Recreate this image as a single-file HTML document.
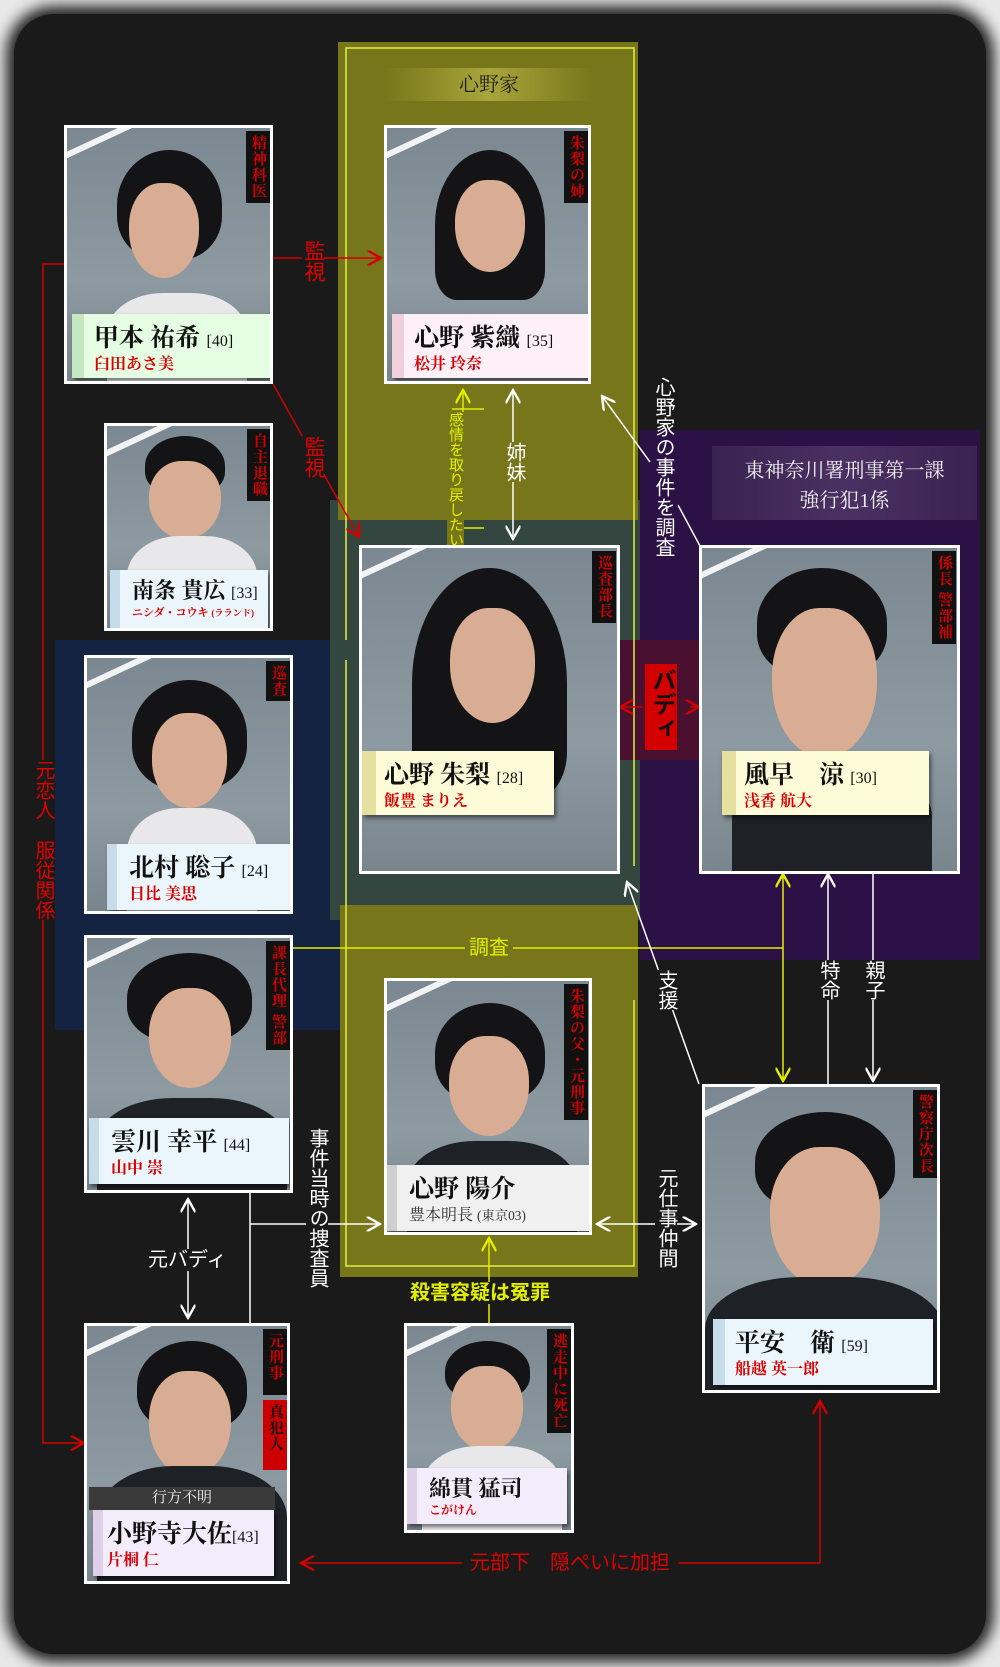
<!DOCTYPE html>
<html><head><meta charset="utf-8"><style>
*{margin:0;padding:0;box-sizing:border-box}
body{width:1000px;height:1667px;background:#e8e8e8;position:relative;overflow:hidden;font-family:"Liberation Serif","Noto Serif CJK SC","Noto Sans CJK JP",serif}
.frame{position:absolute;left:14px;top:14px;width:972px;height:1640px;background:#1a1a1a;border-radius:40px;box-shadow:0 0 14px 8px #222}
.blob{position:absolute}
.card{position:absolute;background:linear-gradient(180deg,#7b8891 0%,#8d9aa2 60%,#7a868d 100%);overflow:hidden;border:3px solid #fff}
.card .hair{position:absolute;background:#141416;border-radius:50% 50% 40% 40%}
.card .face{position:absolute;background:#d9ad94;border-radius:45% 45% 50% 50%}
.card .body{position:absolute;background:#1e2126;border-radius:40% 40% 0 0}
.card .shirt{position:absolute;background:#e8e8ea}
.stroke{position:absolute;left:-10px;top:10px;width:80px;height:6px;background:#fff;transform:rotate(-25deg);opacity:.9}
.tag{position:absolute;background:#111;color:#d40000;font-size:15px;writing-mode:vertical-rl;padding:4px 2px;line-height:20px;font-weight:bold;letter-spacing:1px}
.nb{position:absolute;box-shadow:2px 3px 4px rgba(0,0,0,.5)}
.nb .n{position:absolute;left:22px;top:4px;font-size:25px;font-weight:bold;color:#111;white-space:nowrap}
.nb .n small{font-size:16px;font-weight:normal}
.nb .a{position:absolute;left:22px;top:37px;font-size:16px;color:#d00;font-weight:bold;white-space:nowrap}
.lbl{position:absolute;font-family:"Liberation Sans","Noto Sans CJK JP",sans-serif;font-size:20px;line-height:22px;white-space:nowrap}
.v{writing-mode:vertical-rl}
</style></head><body>
<div class="frame"></div>
<div class="blob" style="left:55px;top:640px;width:300px;height:390px;background:#152446;opacity:.95"></div>
<div class="blob" style="left:330px;top:500px;width:320px;height:420px;background:#33463f"></div>
<div class="blob" style="left:640px;top:430px;width:340px;height:530px;background:#2b1146"></div>
<div class="blob" style="left:620px;top:640px;width:80px;height:120px;background:#4a1030"></div>
<div class="blob" style="left:338px;top:42px;width:300px;height:478px;background:#77761a"></div>
<div class="blob" style="left:340px;top:905px;width:298px;height:372px;background:#77761a"></div>
<div class="blob" style="left:383px;top:68px;width:212px;height:33px;background:linear-gradient(90deg,#77761a,#a8a53a 50%,#77761a)"></div>
<div class="lbl" style="left:383px;top:74px;width:212px;text-align:center;color:#222;font-family:'Liberation Serif','Noto Serif CJK SC',serif">心野家</div>
<div class="blob" style="left:712px;top:446px;width:265px;height:74px;background:linear-gradient(90deg,#3a2350,#4b3163 50%,#3a2350)"></div>
<div class="lbl" style="left:712px;top:456px;width:265px;text-align:center;color:#eee;font-family:'Liberation Serif','Noto Serif CJK SC',serif;line-height:30px">東神奈川署刑事第一課<br>強行犯1係</div>

<svg width="1000" height="1667" style="position:absolute;left:0;top:0">
<defs>
<marker id="ar" markerWidth="10" markerHeight="10" refX="9" refY="5" orient="auto"><path d="M0,0 L9,5 L0,10" fill="none" stroke="#d40000" stroke-width="1.6"/></marker>
<marker id="aw" markerWidth="10" markerHeight="10" refX="9" refY="5" orient="auto"><path d="M0,0 L9,5 L0,10" fill="none" stroke="#fff" stroke-width="1.6"/></marker>
<marker id="ay" markerWidth="10" markerHeight="10" refX="9" refY="5" orient="auto"><path d="M0,0 L9,5 L0,10" fill="none" stroke="#e2ee00" stroke-width="1.6"/></marker>
</defs>
<g fill="none" stroke-width="1.5">
<path d="M346,640 V48 H634 V866" stroke="#e2ee40"/>
<path d="M346,660 V1266 H634 V1000" stroke="#e2ee40"/>
<path d="M273,258 H381" stroke="#d40000" marker-end="url(#ar)"/>
<path d="M273,384 L359,537" stroke="#d40000" marker-end="url(#ar)"/>
<path d="M64,264 H43 V1443 H84" stroke="#d40000" marker-end="url(#ar)"/>
<path d="M590,1563 H301" stroke="#d40000" marker-end="url(#ar)"/>
<path d="M590,1563 H820 V1401" stroke="#d40000" marker-end="url(#ar)"/>
<path d="M643,707 H620" stroke="#d40000" marker-end="url(#ar)"/>
<path d="M690,707 H699" stroke="#d40000" marker-end="url(#ar)"/>
<path d="M463,528 V390" stroke="#e2ee00" marker-end="url(#ay)"/>
<path d="M452,409 H484 M452,528 H484" stroke="#e2ee00"/>
<path d="M293,948 H783" stroke="#e2ee00"/>
<path d="M783,948 V1081" stroke="#e2ee00" marker-end="url(#ay)"/>
<path d="M783,948 V874" stroke="#e2ee00" marker-end="url(#ay)"/>
<path d="M489,1323 V1238" stroke="#e2ee00" marker-end="url(#ay)"/>
<path d="M513,465 V390" stroke="#fff" marker-end="url(#aw)"/>
<path d="M513,465 V539" stroke="#fff" marker-end="url(#aw)"/>
<path d="M650,462 L602,396" stroke="#fff" marker-end="url(#aw)"/>
<path d="M678,505 L700,546" stroke="#fff"/>
<path d="M828,1084 V874" stroke="#fff" marker-end="url(#aw)"/>
<path d="M873,874 V1081" stroke="#fff" marker-end="url(#aw)"/>
<path d="M699,1084 L627,882" stroke="#fff" marker-end="url(#aw)"/>
<path d="M250,1193 V1323 M250,1224 H380" stroke="#fff" marker-end="url(#aw)"/>
<path d="M188,1260 V1199" stroke="#fff" marker-end="url(#aw)"/>
<path d="M188,1260 V1318" stroke="#fff" marker-end="url(#aw)"/>
<path d="M645,1224 H597" stroke="#fff" marker-end="url(#aw)"/>
<path d="M645,1224 H696" stroke="#fff" marker-end="url(#aw)"/>
</g>
</svg>

<div class="lbl v" style="left:302px;top:240px;color:#e00000;background:#1a1a1a;font-size:21px">監視</div>
<div class="lbl v" style="left:302px;top:436px;color:#e00000;background:#1a1a1a;font-size:21px">監視</div>
<div class="lbl v" style="left:32px;top:760px;color:#e00000;background:#1a1a1a;line-height:22px">元恋人　服従関係</div>
<div class="lbl v" style="left:447px;top:412px;color:#e2ee00;font-size:15px;line-height:17px;background:#77761a">感情を取り戻したい</div>
<div class="lbl v" style="left:503px;top:442px;color:#fff;background:#77761a">姉妹</div>
<div class="lbl v" style="left:652px;top:377px;color:#fff;line-height:22px">心野家の事件を調査</div>
<div class="lbl v" style="left:645px;top:664px;width:32px;height:86px;background:#d40000;color:#111;font-weight:bold;font-size:24px;line-height:32px;padding-top:4px">バディ</div>
<div class="lbl" style="left:465px;top:937px;color:#e2ee00;background:#77761a;padding:0 4px">調査</div>
<div class="lbl v" style="left:817px;top:960px;color:#fff;background:#1a1a1a">特命</div>
<div class="lbl v" style="left:862px;top:960px;color:#fff;background:#1a1a1a">親子</div>
<div class="lbl v" style="left:655px;top:970px;color:#fff;background:#1a1a1a">支援</div>
<div class="lbl v" style="left:306px;top:1128px;color:#fff;background:#1a1a1a">事件当時の捜査員</div>
<div class="lbl" style="left:146px;top:1249px;color:#fff;background:#1a1a1a;padding:0 2px">元バディ</div>
<div class="lbl v" style="left:655px;top:1168px;color:#fff;background:#1a1a1a">元仕事仲間</div>
<div class="lbl" style="left:407px;top:1282px;color:#e2ee00;font-weight:bold;background:#1a1a1a;padding:0 3px">殺害容疑は冤罪</div>
<div class="lbl" style="left:462px;top:1552px;color:#e00000;background:#1a1a1a;padding:0 8px">元部下　隠ぺいに加担</div>

<div class="card" style="left:64px;top:125px;width:209px;height:259px">
 <div class="hair" style="left:50px;top:22px;width:105px;height:110px"></div><div class="face" style="left:62px;top:55px;width:70px;height:95px"></div>
 <div class="shirt" style="left:40px;top:165px;width:140px;height:100px;border-radius:40% 40% 0 0"></div><div class="stroke"></div>
 <div class="tag" style="left:179px;top:3px">精神科医</div>
 <div class="nb" style="left:5px;top:186px;width:200px;height:64px;background:linear-gradient(90deg,#c6e8c0 0 12px,#e5fde2 12px)"><div class="n">甲本 祐希 <small>[40]</small></div><div class="a">臼田あさ美</div></div>
</div>
<div class="card" style="left:384px;top:125px;width:207px;height:259px">
 <div class="hair" style="left:48px;top:22px;width:110px;height:150px;border-radius:50% 50% 20% 20%"></div><div class="face" style="left:68px;top:52px;width:70px;height:92px"></div><div class="stroke"></div>
 <div class="tag" style="left:177px;top:3px">朱梨の姉</div>
 <div class="nb" style="left:5px;top:186px;width:197px;height:64px;background:linear-gradient(90deg,#f0d0dc 0 12px,#fdf0f6 12px)"><div class="n">心野 紫織 <small>[35]</small></div><div class="a">松井 玲奈</div></div>
</div>
<div class="card" style="left:104px;top:423px;width:169px;height:208px">
 <div class="hair" style="left:38px;top:10px;width:80px;height:60px"></div><div class="face" style="left:42px;top:35px;width:72px;height:78px"></div>
 <div class="shirt" style="left:20px;top:110px;width:130px;height:100px;border-radius:40% 40% 0 0"></div><div class="stroke"></div>
 <div class="tag" style="left:140px;top:3px">自主退職</div>
 <div class="nb" style="left:3px;top:144px;width:158px;height:58px;background:linear-gradient(90deg,#c6dceb 0 10px,#eaf5fc 10px)"><div class="n" style="font-size:22px">南条 貴広 <small>[33]</small></div><div class="a" style="font-size:11px;top:34px">ニシダ・コウキ <small>(ラランド)</small></div></div>
</div>
<div class="card" style="left:359px;top:545px;width:261px;height:329px">
 <div class="hair" style="left:50px;top:20px;width:155px;height:230px;border-radius:50% 50% 20% 20%"></div><div class="face" style="left:88px;top:60px;width:85px;height:115px"></div><div class="stroke"></div>
 <div class="tag" style="left:230px;top:3px">巡査部長</div>
 <div class="nb" style="left:0px;top:203px;width:192px;height:64px;background:linear-gradient(90deg,#e5e0a0 0 14px,#fdfbd8 14px)"><div class="n">心野 朱梨 <small>[28]</small></div><div class="a">飯豊 まりえ</div></div>
</div>
<div class="card" style="left:699px;top:545px;width:261px;height:329px">
 <div class="hair" style="left:55px;top:20px;width:130px;height:110px"></div><div class="face" style="left:70px;top:60px;width:105px;height:150px"></div>
 <div class="body" style="left:30px;top:220px;width:200px;height:120px"></div><div class="stroke"></div>
 <div class="tag" style="left:230px;top:3px">係長 警部補</div>
 <div class="nb" style="left:20px;top:203px;width:207px;height:64px;background:linear-gradient(90deg,#e5e0a0 0 14px,#fdfbd8 14px)"><div class="n">風早　涼 <small>[30]</small></div><div class="a">浅香 航大</div></div>
</div>
<div class="card" style="left:84px;top:655px;width:209px;height:259px">
 <div class="hair" style="left:45px;top:22px;width:115px;height:110px"></div><div class="face" style="left:65px;top:55px;width:75px;height:95px"></div>
 <div class="shirt" style="left:40px;top:150px;width:130px;height:110px;border-radius:40% 40% 0 0"></div><div class="stroke"></div>
 <div class="tag" style="left:179px;top:3px">巡査</div>
 <div class="nb" style="left:20px;top:186px;width:183px;height:66px;background:linear-gradient(90deg,#c6dceb 0 10px,#eaf5fc 10px)"><div class="n">北村 聡子 <small>[24]</small></div><div class="a">日比 美思</div></div>
</div>
<div class="card" style="left:84px;top:935px;width:209px;height:258px">
 <div class="hair" style="left:40px;top:15px;width:125px;height:90px"></div><div class="face" style="left:62px;top:50px;width:82px;height:100px"></div>
 <div class="body" style="left:10px;top:160px;width:190px;height:110px"></div><div class="stroke"></div>
 <div class="tag" style="left:179px;top:3px">課長代理 警部</div>
 <div class="nb" style="left:2px;top:180px;width:200px;height:66px;background:linear-gradient(90deg,#c6dceb 0 10px,#eaf5fc 10px)"><div class="n">雲川 幸平 <small>[44]</small></div><div class="a">山中 崇</div></div>
</div>
<div class="card" style="left:384px;top:978px;width:208px;height:257px">
 <div class="hair" style="left:48px;top:22px;width:110px;height:100px"></div><div class="face" style="left:62px;top:55px;width:80px;height:100px"></div>
 <div class="body" style="left:20px;top:160px;width:170px;height:110px"></div><div class="stroke"></div>
 <div class="tag" style="left:177px;top:3px">朱梨の父・元刑事</div>
 <div class="nb" style="left:0px;top:184px;width:203px;height:66px;background:linear-gradient(90deg,#cfcfcf 0 10px,#f0f0f0 10px)"><div class="n">心野 陽介</div><div class="a" style="color:#333;font-weight:normal">豊本明長 <small>(東京03)</small></div></div>
</div>
<div class="card" style="left:702px;top:1084px;width:238px;height:309px">
 <div class="hair" style="left:50px;top:25px;width:140px;height:100px"></div><div class="face" style="left:65px;top:60px;width:110px;height:140px"></div>
 <div class="body" style="left:0px;top:190px;width:238px;height:130px"></div><div class="stroke"></div>
 <div class="tag" style="left:208px;top:3px">警察庁次長</div>
 <div class="nb" style="left:8px;top:232px;width:220px;height:66px;background:linear-gradient(90deg,#c6dceb 0 12px,#eaf5fc 12px)"><div class="n">平安　衛 <small>[59]</small></div><div class="a">船越 英一郎</div></div>
</div>
<div class="card" style="left:84px;top:1323px;width:206px;height:261px">
 <div class="hair" style="left:50px;top:15px;width:110px;height:90px"></div><div class="face" style="left:62px;top:45px;width:82px;height:105px"></div>
 <div class="body" style="left:10px;top:140px;width:190px;height:130px"></div><div class="stroke"></div>
 <div class="tag" style="left:176px;top:3px;height:66px">元刑事</div>
 <div class="tag" style="left:176px;top:74px;background:#c00;color:#111;height:70px">真犯人</div>
 <div style="position:absolute;left:2px;top:161px;width:186px;height:23px;background:#3a3a3a;color:#eee;font-size:15px;text-align:center;line-height:23px">行方不明</div>
 <div class="nb" style="left:6px;top:184px;width:181px;height:66px;background:linear-gradient(90deg,#ddd0e8 0 10px,#f3ecfb 10px)"><div class="n" style="left:14px">小野寺大佐<small>[43]</small></div><div class="a" style="left:14px">片桐 仁</div></div>
</div>
<div class="card" style="left:404px;top:1323px;width:170px;height:210px">
 <div class="hair" style="left:38px;top:15px;width:85px;height:60px"></div><div class="face" style="left:44px;top:40px;width:72px;height:85px"></div>
 <div class="shirt" style="left:15px;top:120px;width:140px;height:100px;border-radius:40% 40% 0 0"></div><div class="stroke"></div>
 <div class="tag" style="left:140px;top:3px">逃走中に死亡</div>
 <div class="nb" style="left:0px;top:142px;width:160px;height:56px;background:linear-gradient(90deg,#ddd0e8 0 10px,#f3ecfb 10px)"><div class="n" style="font-size:22px">綿貫 猛司</div><div class="a" style="font-size:12px;top:33px">こがけん</div></div>
</div>
</body></html>
